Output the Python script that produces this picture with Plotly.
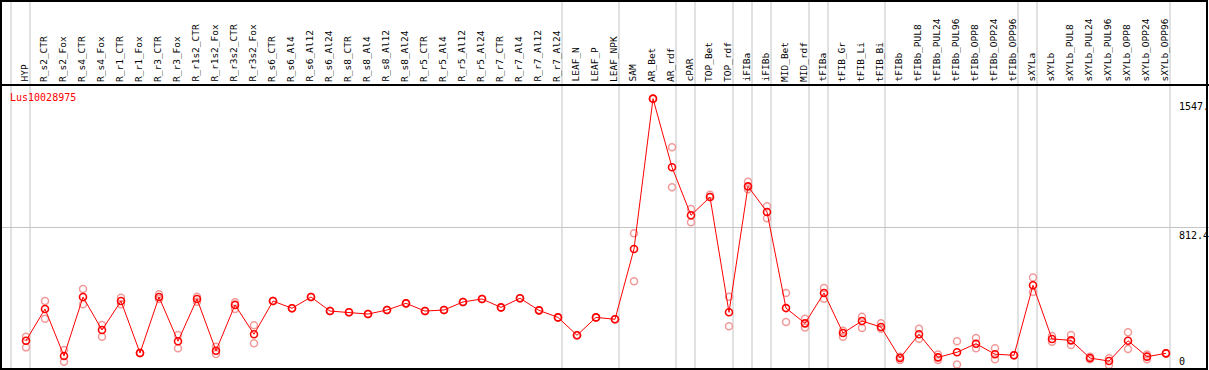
import plotly.graph_objects as go

categories = ["HYP", "R_s2_CTR", "R_s2_Fox", "R_s4_CTR", "R_s4_Fox", "R_r1_CTR", "R_r1_Fox",
              "R_r3_CTR", "R_r3_Fox", "R_r1s2_CTR", "R_r1s2_Fox", "R_r3s2_CTR", "R_r3s2_Fox",
              "R_s6_CTR", "R_s6_Al4", "R_s6_Al12", "R_s6_Al24", "R_s8_CTR", "R_s8_Al4", "R_s8_Al12",
              "R_s8_Al24", "R_r5_CTR", "R_r5_Al4", "R_r5_Al12", "R_r5_Al24", "R_r7_CTR", "R_r7_Al4",
              "R_r7_Al12", "R_r7_Al24", "LEAF_N", "LEAF_P", "LEAF_NPK", "SAM", "AR_Bet", "AR_rdf",
              "cPAR", "TOP_Bet", "TOP_rdf", "iFIBa", "iFIBb", "MID_Bet", "MID_rdf", "tFIBa",
              "tFIB_Gr", "tFIB_Li", "tFIB_Bi", "tFIBb", "tFIBb_PUL8", "tFIBb_PUL24", "tFIBb_PUL96",
              "tFIBb_OPP8", "tFIBb_OPP24", "tFIBb_OPP96", "sXYLa", "sXYLb", "sXYLb_PUL8",
              "sXYLb_PUL24", "sXYLb_PUL96", "sXYLb_OPP8", "sXYLb_OPP24", "sXYLb_OPP96"]

mean_values = [167, 348, 80, 416, 228, 393, 97, 416, 164, 405, 110, 371, 204,
               393, 352, 416, 336, 329, 319, 342, 380, 336, 342, 388, 405, 357, 409, 340, 300,
               198, 300, 289, 690, 1547, 1156, 882, 986, 329, 1047, 901, 353, 266, 439,
               211, 279, 245, 68, 204, 72, 101, 150, 90, 84, 483, 177, 169, 68, 51, 167, 76, 95]

rep_a = [190, 393, 114, 462, 257, 412, 99, 432, 200, 418, 133, 386, 255,
         393, 352, 416, 336, 329, 319, 342, 380, 336, 342, 388, 405, 357, 409, 340, 300,
         198, 300, 289, 779, 1547, 1270, 918, 999, 418, 1073, 933, 439, 292, 467,
         224, 304, 266, 76, 235, 89, 164, 182, 124, 84, 528, 194, 200, 76, 67, 215, 89, 95]

rep_b = [129, 292, 47, 375, 190, 375, 95, 405, 124, 389, 91, 348, 152,
         393, 352, 416, 336, 329, 319, 342, 380, 336, 342, 388, 405, 357, 409, 340, 300,
         198, 300, 289, 506, 1547, 1042, 842, 986, 249, 1030, 865, 274, 243, 406,
         190, 239, 235, 57, 178, 57, 32, 124, 61, 84, 445, 161, 143, 61, 29, 120, 61, 95]

group_starts = ["HYP", "R_s2_CTR", "LEAF_N", "SAM", "cPAR", "TOP_Bet", "iFIBa", "iFIBb",
                "MID_Bet", "tFIBa", "tFIB_Gr", "tFIBb", "sXYLa", "sXYLb"]

y_tick_vals = [1547, 812.4, 0]
y_tick_labels = ["1547.", "812.4", "0"]
y_max = 1624.8
gene_name = "Lus10028975"

W, H = 1209, 370
STEP = 19.0
X0 = 26.0
PLOT_TOP = 85.0

xs = list(range(len(categories)))


def px_x(p):
    return p / W


def px_y(p):
    return 1 - p / H


fig = go.Figure()

# replicate points (faint)
for reps in (rep_a, rep_b):
    fig.add_trace(go.Scatter(
        x=xs, y=reps, mode="markers",
        marker=dict(symbol="circle-open", size=7, color="#f29a9a", line=dict(width=1.5)),
        showlegend=False, hoverinfo="skip"))

# mean line
fig.add_trace(go.Scatter(
    x=xs, y=mean_values, mode="lines+markers",
    line=dict(color="#ff0000", width=1),
    marker=dict(symbol="circle-open", size=7, color="#ff0000", line=dict(width=1.6)),
    showlegend=False))

shapes = []
# separators
sep_idx = [categories.index(c) for c in group_starts] + [len(categories)]
for i in sep_idx:
    shapes.append(dict(type="line", xref="x", yref="paper", x0=i - 15 / STEP, x1=i - 15 / STEP,
                       y0=0, y1=1, line=dict(color="#c4c4c4", width=1), layer="below"))
# mid grid line
shapes.append(dict(type="line", xref="paper", yref="y", x0=0, x1=1, y0=y_tick_vals[1], y1=y_tick_vals[1],
                   line=dict(color="#c4c4c4", width=1), layer="below"))
# borders
shapes.append(dict(type="rect", xref="paper", yref="paper", x0=px_x(1), x1=px_x(1207), y0=px_y(369),
                   y1=px_y(1), line=dict(color="black", width=2), fillcolor="rgba(0,0,0,0)"))
shapes.append(dict(type="line", xref="paper", yref="paper", x0=0, x1=1, y0=px_y(PLOT_TOP), y1=px_y(PLOT_TOP),
                   line=dict(color="black", width=2)))

annotations = []
mono = "DejaVu Sans Mono"
for i, c in enumerate(categories):
    annotations.append(dict(x=i, xref="x", y=px_y(83), yref="paper", text=c, textangle=-90,
                            showarrow=False, xanchor="center", yanchor="bottom", xshift=-2,
                            borderpad=0, font=dict(family=mono, size=9.5, color="black")))

for v, t in zip(y_tick_vals, y_tick_labels):
    annotations.append(dict(x=px_x(1178), xref="paper", y=v, yref="y", text=t, showarrow=False,
                            xanchor="left", yanchor="bottom" if v == 0 else "top",
                            yshift=2 if v == 0 else -1, borderpad=0,
                            font=dict(family=mono, size=10, color="black")))

annotations.append(dict(x=px_x(9), xref="paper", y=px_y(97), yref="paper", text=gene_name,
                        showarrow=False, xanchor="left", yanchor="middle", borderpad=0,
                        font=dict(family=mono, size=10, color="#ff0000")))

fig.update_layout(
    width=W, height=H,
    margin=dict(l=0, r=0, t=0, b=0),
    paper_bgcolor="white", plot_bgcolor="white",
    xaxis=dict(range=[-X0 / STEP, (W - X0) / STEP], showgrid=False, zeroline=False,
               showticklabels=False, showline=False, fixedrange=True),
    yaxis=dict(range=[0, y_max], domain=[0, 1 - PLOT_TOP / H], showgrid=False, zeroline=False,
               showticklabels=False, showline=False, fixedrange=True),
    shapes=shapes, annotations=annotations,
)

fig.write_html("out.html", config={"displayModeBar": False},
               post_script="document.body.style.margin='0';document.body.style.overflow='hidden';")
